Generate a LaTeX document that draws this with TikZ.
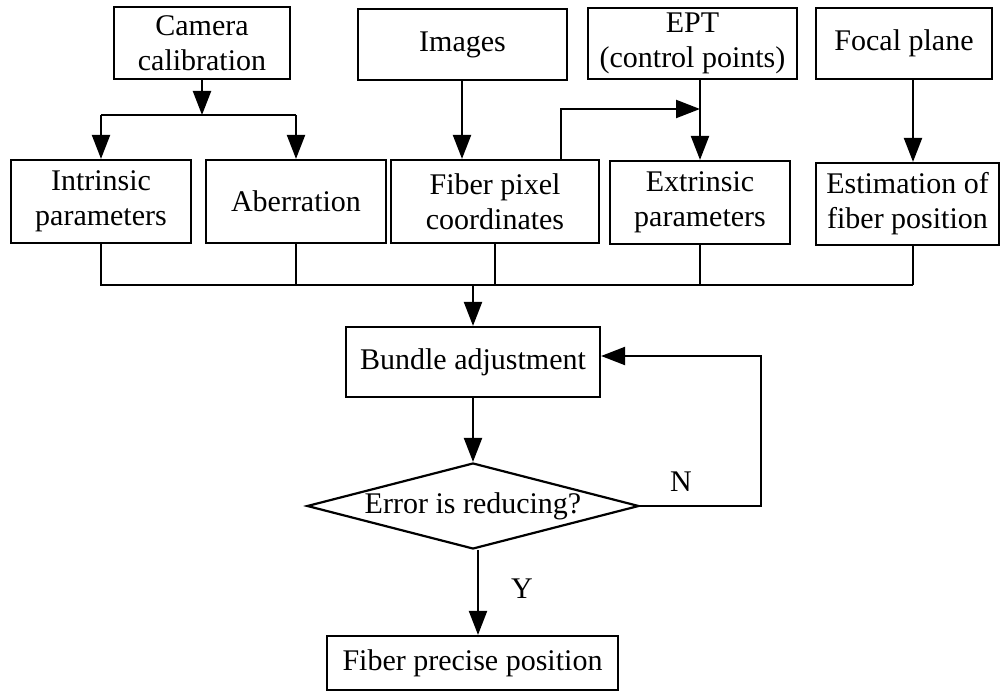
\documentclass[tikz,border=0pt]{standalone}
\usepackage{fontspec}
\setmainfont{Liberation Serif}
\usetikzlibrary{shapes.geometric,arrows.meta,calc}
\begin{document}
\begin{tikzpicture}[x=1pt,y=-1pt,
  box/.style={draw,line width=2.2pt,rectangle,align=center,inner sep=0pt,
    font=\fontsize{30}{35}\selectfont},
  decide/.style={draw,line width=2.2pt,diamond,aspect=3.86,inner sep=0pt,
    minimum width=332,minimum height=86,font=\fontsize{30}{35}\selectfont},
  lbl/.style={font=\fontsize{30}{35}\selectfont,inner sep=0pt},
  conn/.style={line width=2.2pt},
  arr/.style={line width=2.2pt,-{Triangle[length=24pt,width=18pt]}}]
\useasboundingbox (0,0) rectangle (1001,692);
% top row
\node[box,minimum width=176,minimum height=72] (cam) at (202,43) {Camera\\calibration};
\node[box,minimum width=209,minimum height=71] (img) at (462.5,44.5) {Images};
\node[box,minimum width=209,minimum height=71] (ept) at (692.5,43.5) {EPT\\(control points)};
\node[box,minimum width=176,minimum height=71] (focal) at (904,43.5) {Focal plane};
% second row
\node[box,minimum width=180,minimum height=83] (intr) at (101,201.5) {Intrinsic\\parameters};
\node[box,minimum width=180,minimum height=83] (aber) at (296,201.5) {Aberration};
\node[box,minimum width=208,minimum height=83] (fpix) at (495,201.5) {Fiber pixel\\coordinates};
\node[box,minimum width=180,minimum height=83] (extr) at (700,202.5) {Extrinsic\\parameters};
\node[box,minimum width=183,minimum height=82] (est) at (907.5,204) {Estimation of\\fiber position};
% lower
\node[box,minimum width=254,minimum height=70] (bund) at (473,362) {Bundle adjustment};
\node[decide] (dia) at (473,506) {Error is reducing?};
\node[box,minimum width=291,minimum height=54] (prec) at (472.5,663) {Fiber precise position};
% labels
\node[lbl] (nlab) at (681,482) {N};
\node[lbl] (ylab) at (522,589) {Y};
% helper coordinates
\coordinate (split) at (202,115);
\coordinate (xfoc) at (913,0);
\coordinate (ximg) at (462,0);
\coordinate (xfp) at (561,0);
\coordinate (fpjoin) at (700,109);
\coordinate (coll) at (473,285);
\coordinate (fb) at (761,356);
\coordinate (xy) at (478,0);
% connectors top
\draw[arr] (cam.south) -- (split);
\draw[conn] (split -| intr.north) -- (split -| aber.north);
\draw[arr] (split -| intr.north) -- (intr.north);
\draw[arr] (split -| aber.north) -- (aber.north);
\draw[arr] (img.south -| ximg) -- (fpix.north -| ximg);
\draw[arr] (ept.south -| extr.north) -- (extr.north);
\draw[arr] (focal.south -| xfoc) -- (est.north -| xfoc);
\draw[arr] (fpix.north -| xfp) |- (fpjoin);
% collector
\draw[conn] (intr.south) -- (coll -| intr.south) -- (coll -| xfoc);
\draw[conn] (aber.south) -- (coll -| aber.south);
\draw[conn] (fpix.south) -- (coll -| fpix.south);
\draw[conn] (extr.south) -- (coll -| extr.south);
\draw[conn] (est.south -| xfoc) -- (coll -| xfoc);
\draw[arr] (coll) -- (bund.north);
% lower flow
\draw[arr] (bund.south) -- (dia.north);
\draw[arr] (dia.east) -| (fb) -- (fb -| bund.east);
\draw[arr] (dia.south -| xy) -- (prec.north -| xy);
\end{tikzpicture}
\end{document}
